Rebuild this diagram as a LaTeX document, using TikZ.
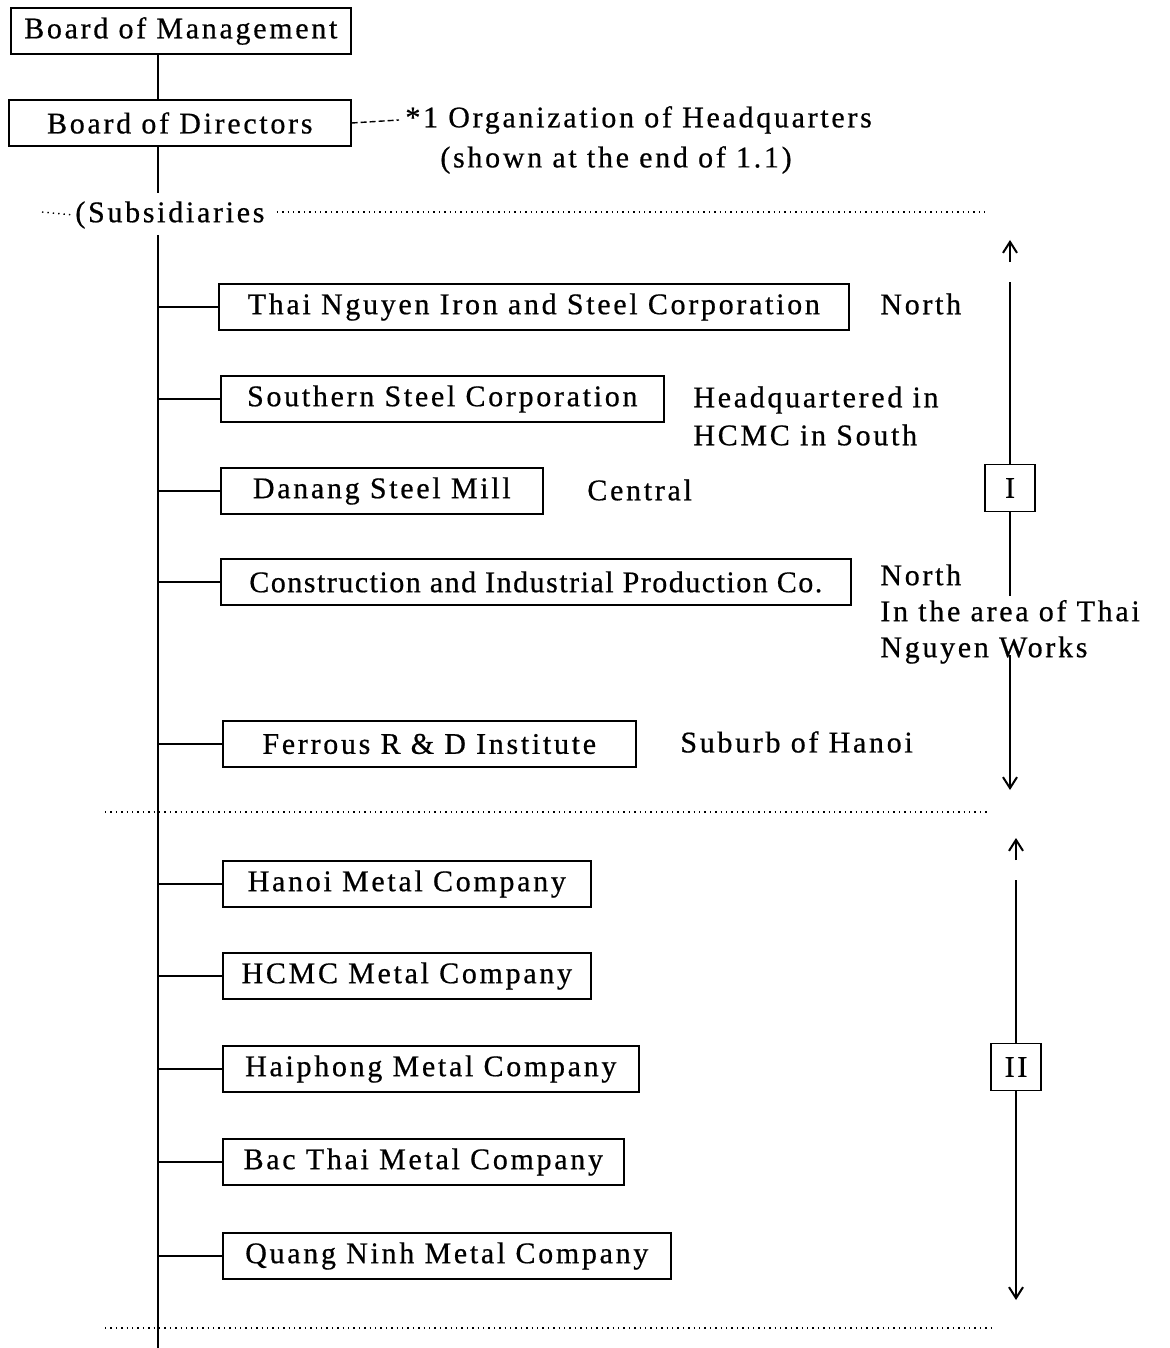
\documentclass[tikz,border=0pt]{standalone}
\usepackage{fontspec}
\setmainfont{Liberation Serif}[LetterSpace=9, FakeBold=0.6]
\usetikzlibrary{positioning, arrows.meta}

\tikzset{
  unit/.style={draw, line width=0.8pt, anchor=west, minimum height=23pt, inner sep=0pt},
  grp/.style={draw, line width=0.8pt, minimum width=25pt, minimum height=23.5pt, inner sep=0pt},
  place/.style={anchor=west, align=left, inner sep=0pt},
  link/.style={line width=0.7pt},
  trunk/.style={line width=1.3pt},
  guide/.style={dotted, line width=0.7pt},
  spanline/.style={line width=1pt},
}

\begin{document}
\begin{tikzpicture}[x=0.5pt, y=-0.5pt, font=\fontsize{15}{18}\selectfont,
    >={Straight Barb[length=5.5pt, width=7pt]}]
  \useasboundingbox (0,0) rectangle (1170,1348);

  % Top of the hierarchy
  \node[unit, minimum width=170pt] (mgmt) at (10,31) {Board of Management};
  \node[unit, minimum width=171pt] (dirs) at (8,123) {Board of Directors};
  \coordinate (t0) at (158,0);
  \draw[trunk] (mgmt.south -| t0) -- (dirs.north -| t0);

  % Headquarters note
  \node[place] (hq) at (405,120) {*1 Organization of Headquarters};
  \node[place] (hqnote) at (440,160) {(shown at the end of 1.1)};
  \draw[link, dash pattern=on 3pt off 1.5pt] (dirs.east) -- ([xshift=-3pt]hq.west);

  % Subsidiaries
  \node[place] (subs) at (75,215) {(Subsidiaries};
  \coordinate (subsL) at (42,212);
  \coordinate (subsR) at (985,212);
  \draw[guide] (subsL) -- ([xshift=-1pt]subs.west);
  \draw[guide] (subs.east) ++(12,-3) -- (subsR);
  \draw[trunk] (dirs.south -| t0) -- ([yshift=4pt]subs.north -| t0);

  % Main trunk
  \coordinate (tTop) at (158,235);
  \coordinate (tBot) at (158,1348);
  \draw[trunk] (tTop) -- (tBot);

  % Group I
  \node[unit, minimum width=315pt] (thai) at (218,307) {Thai Nguyen Iron and Steel Corporation};
  \node[unit, minimum width=221.5pt] (south) at (220,399) {Southern Steel Corporation};
  \node[unit, minimum width=161pt] (danang) at (220,491) {Danang Steel Mill};
  \node[unit, minimum width=315pt, font=\fontsize{15}{18}\selectfont\addfontfeature{LetterSpace=5}] (cip) at (220,582) {Construction and Industrial Production Co.};
  \node[unit, minimum width=206.5pt] (ferrous) at (222,744) {Ferrous R \& D Institute};

  % Group II
  \node[unit, minimum width=184pt] (hanoi) at (222,884) {Hanoi Metal Company};
  \node[unit, minimum width=184pt] (hcmc) at (222,976) {HCMC Metal Company};
  \node[unit, minimum width=208pt] (haiphong) at (222,1069) {Haiphong Metal Company};
  \node[unit, minimum width=200.5pt] (bacthai) at (222,1162) {Bac Thai Metal Company};
  \node[unit, minimum width=224pt] (quangninh) at (222,1256) {Quang Ninh Metal Company};

  \foreach \u in {thai,south,danang,cip,ferrous,hanoi,hcmc,haiphong,bacthai,quangninh}
    \draw[link] (\u.west -| tTop) -- (\u.west);

  % Locations
  \node[place] (locThai) at (880,304) {North};
  \node[place, font=\fontsize{15}{19}\selectfont] (locSouth) at (693,416) {Headquartered in\\HCMC in South};
  \node[place] (locDanang) at (587,490) {Central};
  \node[place] (locCip) at (880,614) {North\\In the area of Thai\\Nguyen Works};
  \node[place] (locFerrous) at (680,742) {Suburb of Hanoi};

  % Separators
  \coordinate (sepAL) at (105,812);
  \coordinate (sepAR) at (990,812);
  \coordinate (sepBL) at (105,1328);
  \coordinate (sepBR) at (995,1328);
  \draw[guide] (sepAL) -- (sepAR);
  \draw[guide] (sepBL) -- (sepBR);

  % Range I
  \node[grp] (grpI) at (1010,488) {I};
  \coordinate (rIa) at (1010,262);
  \coordinate (rIb) at (1010,240);
  \coordinate (rIc) at (1010,282);
  \coordinate (rId) at (1010,596);
  \coordinate (rIe) at (1010,655);
  \coordinate (rIf) at (1010,790);
  \draw[spanline, ->] (rIa) -- (rIb);
  \draw[spanline] (rIc) -- (grpI);
  \draw[spanline] (grpI) -- (rId);
  \draw[spanline, ->] (rIe) -- (rIf);

  % Range II
  \node[grp] (grpII) at (1016,1067) {II};
  \coordinate (rIIa) at (1016,860);
  \coordinate (rIIb) at (1016,838);
  \coordinate (rIIc) at (1016,880);
  \coordinate (rIId) at (1016,1300);
  \draw[spanline, ->] (rIIa) -- (rIIb);
  \draw[spanline] (rIIc) -- (grpII);
  \draw[spanline, ->] (grpII) -- (rIId);
\end{tikzpicture}
\end{document}
